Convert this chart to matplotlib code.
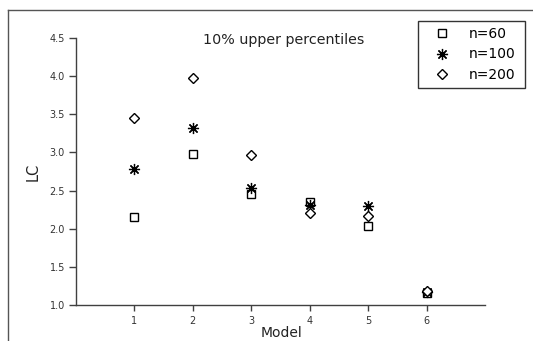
import matplotlib
matplotlib.use("Agg")
import matplotlib.pyplot as plt
from matplotlib.lines import Line2D

plt.rcParams['font.family'] = ['DejaVu Sans']

models = [1, 2, 3, 4, 5, 6]
n60 = [2.15, 2.98, 2.45, 2.35, 2.04, 1.16]
n100 = [2.78, 3.32, 2.54, 2.31, 2.30, 1.17]
n200 = [3.45, 3.98, 2.97, 2.20, 2.17, 1.18]
labels = ["n=60", "n=100", "n=200"]
yticks = [1.0, 1.5, 2.0, 2.5, 3.0, 3.5, 4.0, 4.5]
title = "10% upper percentiles"

W, H = 533, 341
fig = plt.figure(figsize=(W / 100, H / 100), dpi=100)
ax = fig.add_axes([76 / W, 1 - 305 / H, (485 - 76) / W, (305 - 38) / H])

axc = '#404040'
h1, = ax.plot(models, n60, ls='none', marker='s', ms=6, mfc='white', mec='black', mew=1.0)
h2, = ax.plot(models, n100, ls='none', marker=(8, 2, 0), ms=8, mec='black', mew=0.9, color='black')
h3, = ax.plot(models, n200, ls='none', marker='D', ms=5.5, mfc='white', mec='black', mew=1.0)

ax.set_xlim(0, 7)
ax.set_ylim(1.0, 4.5)
ax.set_xticks(models)
ax.set_xticklabels([str(m) for m in models])
ax.set_yticks(yticks)
ax.set_yticklabels([f"{v:.1f}" for v in yticks])
for s in ['top', 'right']:
    ax.spines[s].set_visible(False)
for s in ['left', 'bottom']:
    ax.spines[s].set_color(axc)
    ax.spines[s].set_linewidth(1.0)
ax.tick_params(axis='both', colors=axc, labelcolor='#333333', labelsize=7, width=1.0)
ax.tick_params(axis='y', direction='out', length=5, pad=3)
ax.tick_params(axis='x', direction='out', length=4, pad=4)

ax.set_ylabel("LC", fontsize=10.5, color='#222222', labelpad=6)
ax.set_xlabel("Model", fontsize=10, color='#222222', labelpad=2)
ax.xaxis.set_label_coords((281 - 76) / (485 - 76), -0.08)

fig.text(203 / W, 1 - 40 / H, title, fontsize=10.3, color='#222222', va='center', ha='left')

lx0, lx1, ly0, ly1 = 418, 525, 21, 86
leg = fig.legend([h1, h2, h3], labels, loc='upper left',
                 bbox_to_anchor=(lx0 / W, 1 - ly1 / H, (lx1 - lx0) / W, (ly1 - ly0) / H),
                 mode='expand', fontsize=10,
                 frameon=True, fancybox=False, framealpha=1, edgecolor='#333333',
                 handlelength=2.6, handletextpad=0.6, borderpad=0.45, labelspacing=0.45,
                 borderaxespad=0)
leg.get_frame().set_linewidth(1.0)

# outer frame lines
fig.add_artist(Line2D([8 / W, 1.0], [1 - 10 / H, 1 - 10 / H], transform=fig.transFigure, color='#555555', lw=1.0))
fig.add_artist(Line2D([8 / W, 8 / W], [1 - 10 / H, 0.0], transform=fig.transFigure, color='#555555', lw=1.0))

fig.savefig("out.png", dpi=100)
